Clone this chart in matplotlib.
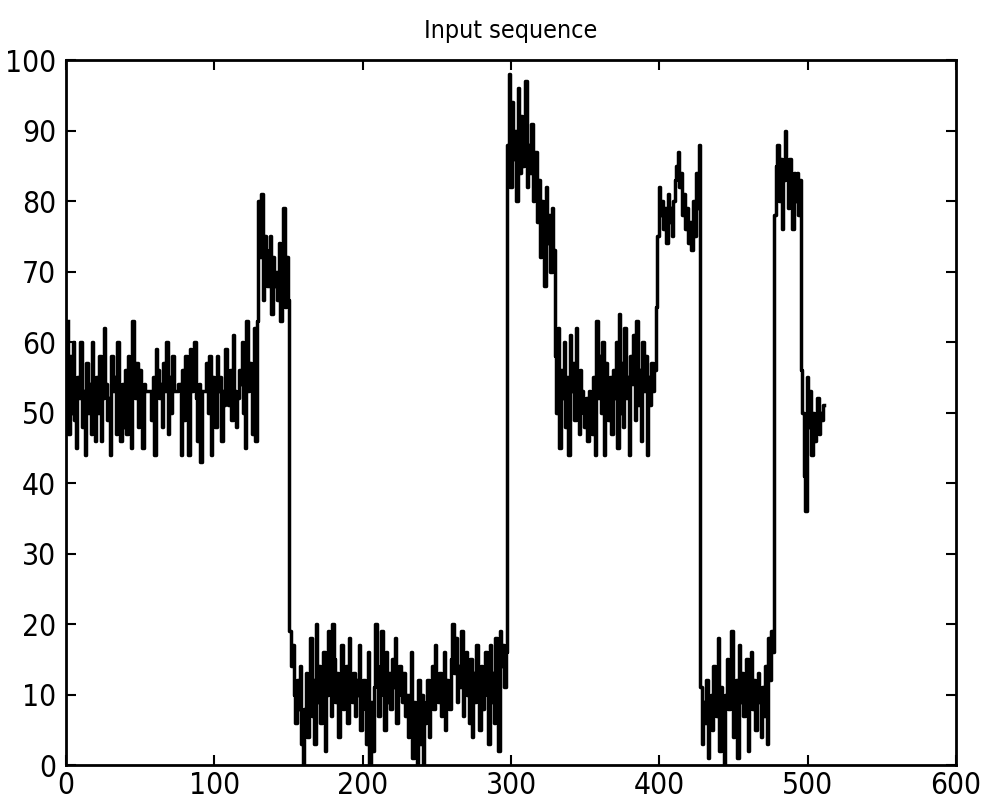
import numpy as np
import matplotlib
matplotlib.use('Agg')
import matplotlib.pyplot as plt

plt.rcParams['font.family'] = ['DejaVu Sans']
plt.rcParams['font.stretch'] = 'condensed'

# Input sequence
seg_a = [63, 47, 58, 50, 60, 49, 45, 55, 52, 60,
         48, 53, 44, 57, 50, 54, 47, 60, 52, 46,
         55, 50, 58, 46, 52, 62, 54, 49, 52, 44,
         58, 53, 55, 47, 60, 52, 46, 54, 48, 56,
         47, 58, 50, 45, 63, 55, 52, 57, 48, 56,
         52, 45, 54, 53, 53, 53, 53, 49, 55, 44,
         59, 56, 52, 54, 48, 57, 53, 60, 47, 55,
         50, 58, 53, 53, 53, 54, 54, 44, 56, 49,
         58, 52, 44, 59, 53, 55, 60, 52, 46, 54,
         43, 53, 53, 53, 57, 50, 58, 44, 55, 52,
         48, 58, 53, 55, 46, 53, 51, 59, 54, 51,
         56, 49, 61, 53, 48, 52, 56, 54, 60, 50,
         45, 63, 53, 57, 54, 47, 62, 46]
seg_b = [63, 80, 72, 81, 66, 75, 70, 68, 73, 75, 64, 72, 68, 70, 66, 74,
         63, 71, 79, 65, 72, 66]
seg_c = [19, 14, 17, 10, 6, 12, 8, 14, 3, 0,
         8, 13, 4, 10, 18, 7, 12, 3, 20, 9,
         14, 6, 11, 16, 2, 10, 19, 12, 7, 20,
         15, 9, 13, 4, 11, 17, 8, 10, 14, 6,
         18, 11, 9, 13, 7, 12, 10, 17, 5, 9,
         12, 8, 3, 16, 0, 9, 2, 11, 20, 14,
         7, 10, 19, 12, 5, 16, 9, 13, 8, 15,
         11, 18, 6, 10, 14, 12, 9, 13, 7, 10,
         4, 10, 16, 1, 9, 7, 0, 12, 3, 10,
         0, 6, 9, 12, 4, 10, 14, 8, 17, 11,
         9, 13, 7, 11, 16, 5, 12, 10, 8, 15,
         20, 13, 18, 9, 14, 11, 19, 7, 12, 16,
         10, 6, 15, 4, 13, 9, 17, 11, 5, 14,
         8, 12, 16, 10, 3, 17, 9, 13, 6, 18,
         11, 2, 19, 14, 17, 11, 16]
seg_d = [88, 98, 82, 94, 86, 90, 80, 96, 84, 92, 85, 89, 97, 82, 88, 84,
         91, 80, 85, 87]
seg_e = [77, 83, 72, 80, 75, 68, 82, 74, 78, 70, 79, 73]
seg_f = [58, 50, 62, 45, 56, 52, 60, 48, 55, 44,
         61, 53, 57, 49, 62, 51, 47, 56, 53, 50,
         48, 52, 46, 53, 50, 47, 55, 44, 63, 52,
         58, 50, 60, 44, 57, 53, 49, 55, 47, 56,
         52, 60, 45, 64, 50, 57, 48, 62, 52, 55,
         44, 58, 54, 61, 49, 63, 51, 56, 46, 60,
         53, 58, 44, 55, 51, 57, 53, 56, 65]
seg_g = [75, 82, 78, 80, 76, 79, 74, 81, 77, 79, 75, 80, 83, 85, 87, 82,
         84, 78, 81, 76, 79, 74, 77, 73, 80, 75, 84, 79, 88]
seg_h = [11, 3, 9, 6, 12, 1, 8, 10, 5, 14,
         10, 7, 18, 2, 11, 9, 0, 10, 15, 8,
         11, 19, 4, 10, 12, 1, 17, 9, 13, 7,
         10, 15, 2, 11, 16, 8, 12, 5, 10, 13,
         9, 4, 11, 7, 14, 3, 18, 12, 19, 16]
seg_i = [78, 85, 88, 80, 86, 76, 83, 90, 84, 79, 86, 81, 76, 84, 80, 84,
         78, 83]
seg_j = [56, 50, 41, 36, 55, 48, 53, 44, 50, 46, 49, 52, 47, 50, 49, 51]

values = seg_a + seg_b + seg_c + seg_d + seg_e + seg_f + seg_g + seg_h + seg_i + seg_j
samples = np.arange(1, len(values) + 1)

fig = plt.figure(figsize=(9.87, 8.02), dpi=100)
ax = fig.add_axes([0.0669, 0.0461, 0.9017, 0.879])

ax.plot(samples, values, color='black', linewidth=2.5, drawstyle='steps-mid')

ax.set_xlim(0, 600)
ax.set_ylim(0, 100)
ax.set_xticks(range(0, 601, 100))
ax.set_yticks(range(0, 101, 10))
ax.tick_params(direction='in', top=True, right=True, length=7, width=1.5,
               labelsize=21.5, pad=7)
ax.tick_params(axis='x', pad=4)
for spine in ax.spines.values():
    spine.set_linewidth(2)

ax.set_title('Input sequence', fontsize=18, pad=16)

fig.savefig('out.png', dpi=100)
